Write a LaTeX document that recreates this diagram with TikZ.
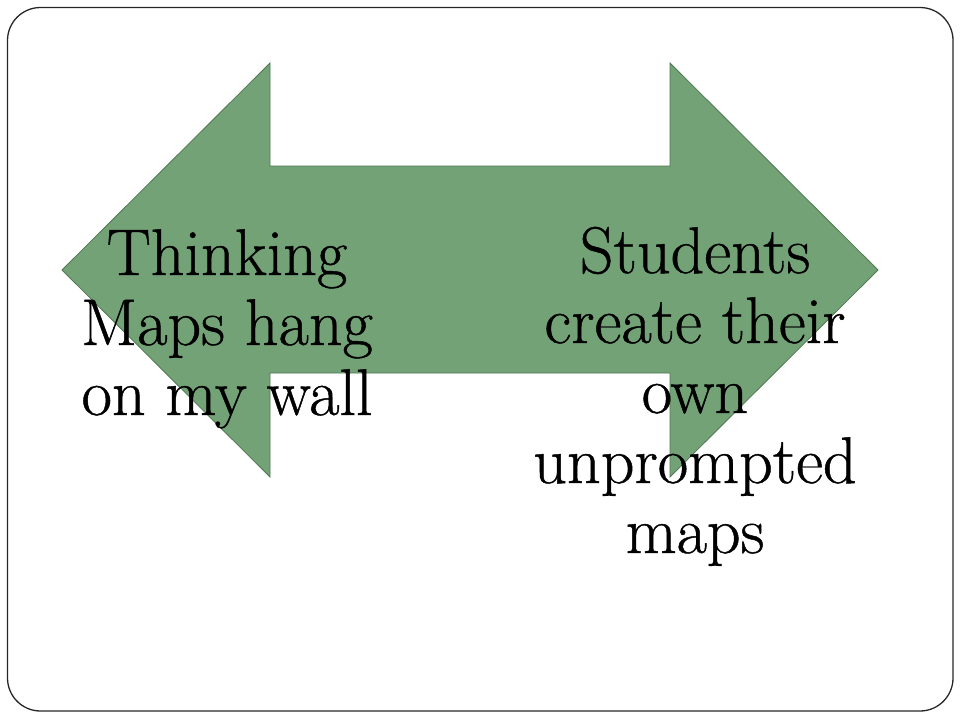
\documentclass[tikz,border=0pt]{standalone}
\usepackage{fontspec}
\newfontfamily\labelfont{Latin Modern Roman}[FakeBold=0.7]
\begin{document}
\begin{tikzpicture}[x=1pt,y=-1pt,
  frame/.style={draw=black!85,line width=1.3pt,rounded corners=33pt},
  arrowshape/.style={fill=arrowgreen,draw=arrowedge,line width=0.8pt,line join=miter},
  label/.style={align=center,font=\labelfont\fontsize{66}{70}\selectfont,inner sep=0pt,anchor=base}]
\definecolor{arrowgreen}{RGB}{115,162,118}
\definecolor{arrowedge}{RGB}{80,120,82}
\useasboundingbox (0,0) rectangle (960,720);
\draw[frame] (7.5,7.5) rectangle (953,711);
\draw[arrowshape] (62,270) -- (270,63) -- (270,166) -- (670,166) -- (670,63) -- (878,270)
  -- (670,477) -- (670,373) -- (270,373) -- (270,477) -- cycle;
\node[label] (left) at (227,415) {Thinking\\Maps hang\\on my wall};
\node[label] (right) at (695,553) {Students\\create their\\own\\unprompted\\maps};
\end{tikzpicture}
\end{document}
